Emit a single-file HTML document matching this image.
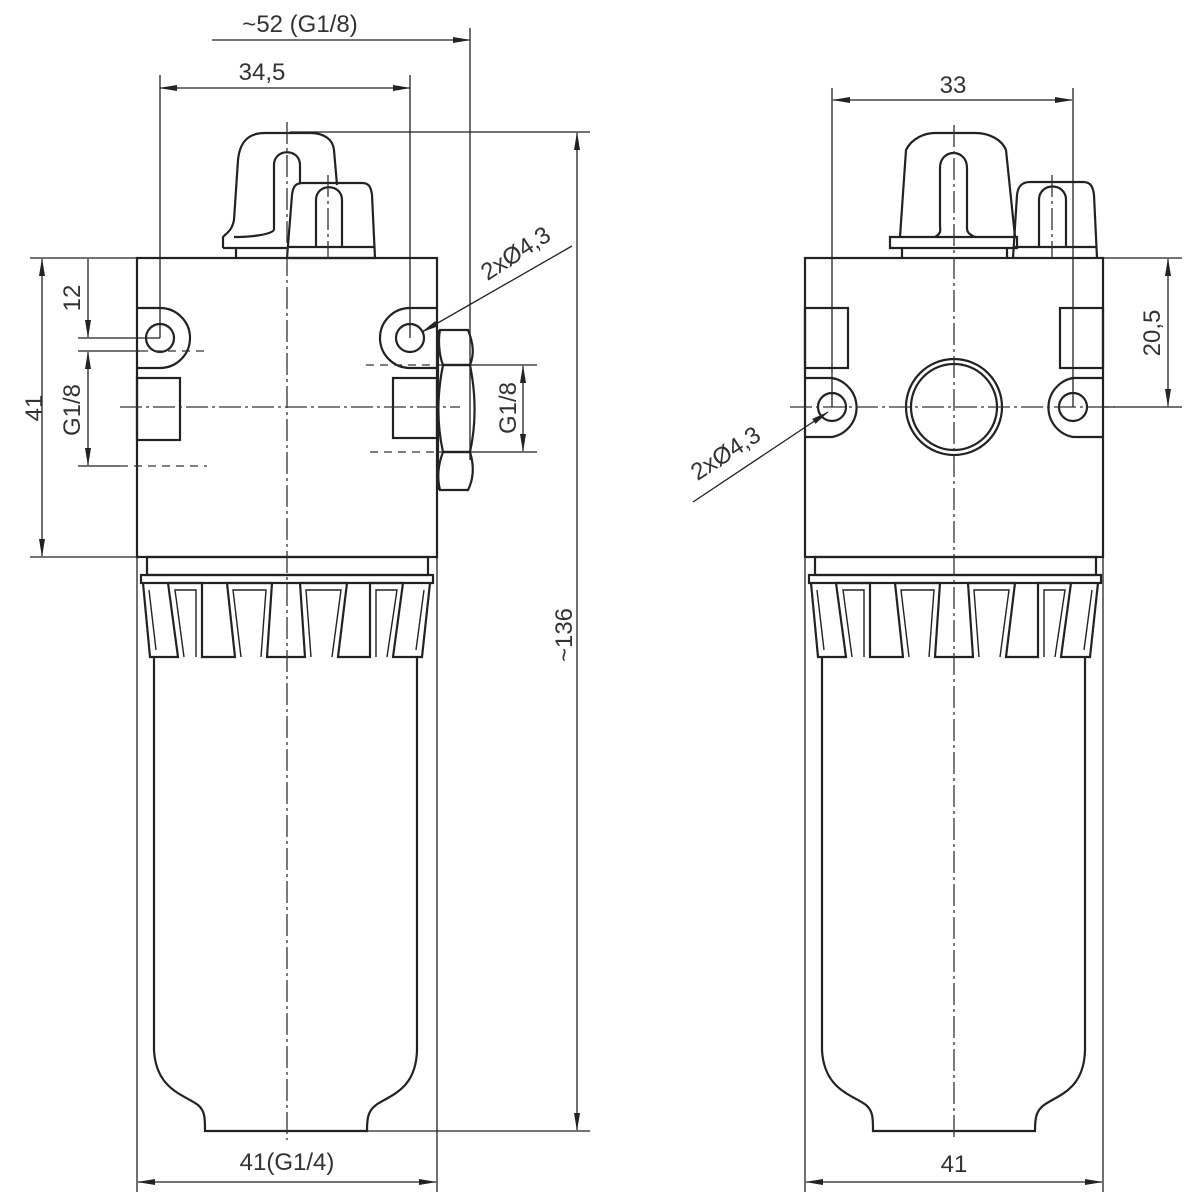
<!DOCTYPE html>
<html><head><meta charset="utf-8"><style>
html,body{margin:0;padding:0;background:#fff}
svg{display:block}
text{font-family:"Liberation Sans",sans-serif;fill:#333;font-size:24px}
</style></head><body>
<svg width="1200" height="1200" viewBox="0 0 1200 1200" xmlns="http://www.w3.org/2000/svg">
<defs>
<marker id="a" markerWidth="18" markerHeight="8" refX="17" refY="4" orient="auto-start-reverse" markerUnits="userSpaceOnUse"><path d="M0,1 L18,4 L0,7 Z" fill="#222"/></marker>
<g id="bowl" fill="none" stroke="#222" stroke-width="2.2">
<rect x="147" y="557" width="281" height="18"/>
<rect x="141" y="575" width="292" height="8"/>
<polyline points="143,583 150,657 178,657 168,583 202,583 202,657 235,657 227,583 272,583 267,657 305,657 300,583 347,583 338,657 370,657 370,583 403,583 393,657 422,657 430,583"/>
<g stroke-width="1.4">
<polyline points="149,590 156,650"/>
<polyline points="184,657 175,590 196,590 196,657"/>
<polyline points="241,657 233,590 266,590 261,657"/>
<polyline points="311,657 306,590 341,590 332,657"/>
<polyline points="376,657 376,590 397,590 387,657"/>
<polyline points="424,590 416,650"/>
</g>
<path d="M154,657 L154,1050 C156,1090 185,1095 198,1105 C205,1111 205,1118 205,1131 L367,1131 C367,1118 368,1111 376,1105 C390,1095 416,1090 417,1050 L417,657"/>
</g>
</defs>
<g fill="none" stroke="#222" stroke-width="2.2">
<rect x="137" y="258" width="300" height="299"/>
<path d="M223,248 L223,237 C228,232 232,230 234,220 L238,160 C240,140 250,133 265,133 L310,133 C325,133 333,140 334,150 L337,185"/>
<path d="M274,230 L274,165 C274,148 300,148 300,165 L300,183"/>
<path d="M223,248 L287,248 M236,248 L236,258 M234,237 C250,237 270,235 274,230"/>
<path d="M287,258 L292,195 C293,186 296,183 303,183 L362,183 C369,183 371,187 372,195 L375,258 Z M289,247 L374,247"/>
<path d="M316,247 L316,200 C316,183 342,183 342,200 L342,247"/>
<path d="M137,308 L160,308 A30,30 0 0 1 160,368 L137,368"/>
<circle cx="160" cy="338" r="14"/>
<path d="M437,308 L410,308 A30,30 0 0 0 410,368 L437,368"/>
<circle cx="410" cy="338" r="14"/>
<rect x="137" y="378" width="43" height="62"/>
<rect x="393" y="378" width="44" height="60"/>
<path d="M440,330 L468,330 C474,345 474,355 470,365 L443,365 C439,355 438,340 440,330 Z"/>
<path d="M443,365 L470,365 C476,395 476,425 470,452 L443,452 C437,425 437,395 443,365 Z"/>
<path d="M443,452 L470,452 C474,465 474,478 468,490 L440,490 C437,478 438,465 443,452 Z"/>
<line x1="438" y1="330" x2="438" y2="490"/>
<rect x="805" y="258" width="298" height="299"/>
<path d="M890,248 L890,237 L900,237 L906,150 C912,138 925,133 935,133 L975,133 C990,133 1002,140 1006,150 L1015,237 L1017,237 L1017,248 Z M900,237 L1015,237"/>
<path d="M902,248 L902,258 M1007,248 L1007,258"/>
<path d="M935,237 C942,233 940,230 940,225 L940,168 C940,148 967,148 967,168 L967,225 C967,230 966,233 975,237"/>
<path d="M1013,258 L1017,195 C1018,186 1022,182 1030,182 L1083,182 C1090,182 1093,186 1094,195 L1097,258 M1015,247 L1096,247"/>
<path d="M1039,247 L1039,200 C1039,182 1066,182 1066,200 L1066,247"/>
<rect x="805" y="308" width="43" height="60"/>
<rect x="1060" y="308" width="43" height="60"/>
<path d="M805,378 L832,378 A30,30 0 0 1 832,437 L805,437"/>
<circle cx="832" cy="407" r="14"/>
<path d="M1103,378 L1073,378 A30,30 0 0 0 1073,437 L1103,437"/>
<circle cx="1073" cy="407" r="14"/>
<circle cx="954" cy="407" r="48"/>
<circle cx="954" cy="407" r="43"/>
</g>
<use href="#bowl"/>
<use href="#bowl" transform="translate(668,0)"/>
<g stroke="#333" stroke-width="1.3" fill="none" stroke-dasharray="22,4,3,4">
<line x1="287" y1="122" x2="287" y2="1140"/>
<line x1="954" y1="125" x2="954" y2="1140"/>
<line x1="120" y1="407" x2="460" y2="407"/>
<line x1="790" y1="407" x2="1115" y2="407"/>
<line x1="328" y1="175" x2="328" y2="258"/>
<line x1="1052" y1="175" x2="1052" y2="258"/>
</g>
<g stroke="#333" stroke-width="1.3" fill="none" stroke-dasharray="8,6">
<line x1="140" y1="351" x2="207" y2="351"/>
<line x1="120" y1="466" x2="207" y2="466"/>
<line x1="366" y1="365" x2="437" y2="365"/>
<line x1="370" y1="452" x2="437" y2="452"/>
</g>
<g stroke="#222" stroke-width="1.3" fill="none">
<line x1="470" y1="28" x2="470" y2="460"/>
<line x1="212" y1="40" x2="470" y2="40" marker-end="url(#a)"/>
<line x1="160" y1="75" x2="160" y2="338"/>
<line x1="410" y1="75" x2="410" y2="338"/>
<line x1="160" y1="88" x2="410" y2="88" marker-start="url(#a)" marker-end="url(#a)"/>
<line x1="290" y1="132" x2="590" y2="132"/>
<line x1="367" y1="1131" x2="590" y2="1131"/>
<line x1="577" y1="133" x2="577" y2="1130" marker-start="url(#a)" marker-end="url(#a)"/>
<line x1="30" y1="258" x2="137" y2="258"/>
<line x1="30" y1="557" x2="137" y2="557"/>
<line x1="42" y1="259" x2="42" y2="556" marker-start="url(#a)" marker-end="url(#a)"/>
<line x1="78" y1="338" x2="160" y2="338"/>
<line x1="78" y1="351" x2="140" y2="351"/>
<line x1="78" y1="466" x2="120" y2="466"/>
<line x1="88" y1="259" x2="88" y2="337" marker-end="url(#a)"/>
<line x1="88" y1="352" x2="88" y2="465" marker-start="url(#a)" marker-end="url(#a)"/>
<line x1="437" y1="365" x2="537" y2="365"/>
<line x1="437" y1="452" x2="537" y2="452"/>
<line x1="523" y1="366" x2="523" y2="451" marker-start="url(#a)" marker-end="url(#a)"/>
<line x1="572" y1="246" x2="422" y2="332" marker-end="url(#a)"/>
<line x1="137" y1="557" x2="137" y2="1192"/>
<line x1="437" y1="557" x2="437" y2="1192"/>
<line x1="138" y1="1182" x2="436" y2="1182" marker-start="url(#a)" marker-end="url(#a)"/>
<line x1="832" y1="88" x2="832" y2="407"/>
<line x1="1073" y1="88" x2="1073" y2="407"/>
<line x1="833" y1="100" x2="1072" y2="100" marker-start="url(#a)" marker-end="url(#a)"/>
<line x1="1103" y1="258" x2="1182" y2="258"/>
<line x1="1103" y1="407" x2="1182" y2="407"/>
<line x1="1168" y1="259" x2="1168" y2="406" marker-start="url(#a)" marker-end="url(#a)"/>
<line x1="693" y1="502" x2="828" y2="412" marker-end="url(#a)"/>
<line x1="805" y1="557" x2="805" y2="1192"/>
<line x1="1103" y1="557" x2="1103" y2="1192"/>
<line x1="806" y1="1182" x2="1102" y2="1182" marker-start="url(#a)" marker-end="url(#a)"/>
</g>
<text x="300" y="32" text-anchor="middle">~52 (G1/8)</text>
<text x="262" y="80" text-anchor="middle">34,5</text>
<text x="287" y="1170" text-anchor="middle">41(G1/4)</text>
<text x="954" y="1172" text-anchor="middle">41</text>
<text x="953" y="93" text-anchor="middle">33</text>
<text transform="translate(42,408) rotate(-90)" text-anchor="middle">41</text>
<text transform="translate(80,298) rotate(-90)" text-anchor="middle">12</text>
<text transform="translate(80,410) rotate(-90)" text-anchor="middle">G1/8</text>
<text transform="translate(516,408) rotate(-90)" text-anchor="middle">G1/8</text>
<text transform="translate(572,635) rotate(-90)" text-anchor="middle">~136</text>
<text transform="translate(1160,333) rotate(-90)" text-anchor="middle">20,5</text>
<text transform="translate(520,260) rotate(-33)" text-anchor="middle">2xØ4,3</text>
<text transform="translate(730,460) rotate(-33)" text-anchor="middle">2xØ4,3</text>
</svg>
</body></html>
